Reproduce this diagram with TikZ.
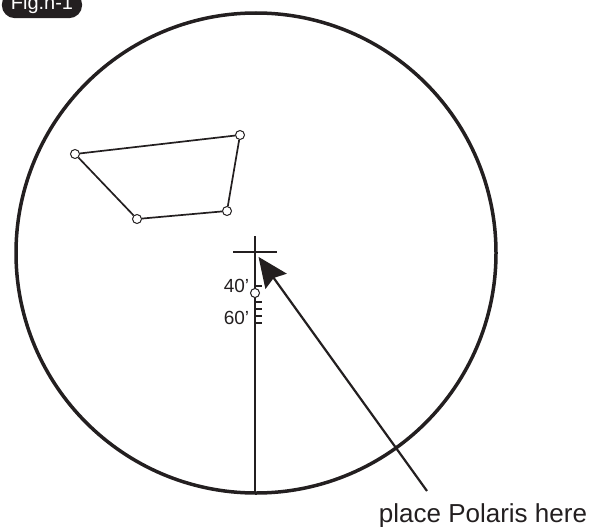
\documentclass[tikz,border=0pt]{standalone}
\usepackage{fontspec}
\setmainfont{Liberation Sans}
\usetikzlibrary{arrows.meta,positioning,calc}

\definecolor{ink}{HTML}{231F20}

\begin{document}
\begin{tikzpicture}[x=1pt, y=-1pt, ink, line width=1.7pt,
  star/.style={circle, draw, fill=white, inner sep=0pt, minimum size=9pt, line width=1pt},
  lbl/.style={font=\fontsize{19}{21}\selectfont, inner sep=0pt, anchor=east}]
  \useasboundingbox (0,0) rectangle (605,527);

  % field of view
  \node[circle, draw, line width=3.5pt, minimum size=480pt, inner sep=0pt, outer sep=0pt] (field) at (256,253) {};
  \node[fill=ink, text=white, rounded corners=13pt, inner xsep=9pt, inner ysep=4pt,
        font=\fontsize{20}{22}\selectfont, anchor=base west] (fig) at (1,10) {Fig.n-1};

  % pole cross and scale
  \coordinate (pole) at (255,252);
  \draw ($(pole)+(-22,0)$) -- ($(pole)+(22,0)$);
  \draw ($(pole)+(0,-16)$) -- (pole |- field.south);
  \foreach \y in {286,302,309,316,323}
    \draw (255,\y) -- ++(7,0);
  \node[star] (ref) at (255,293) {};
  \node[lbl] (m40) at (250,286) {40'};
  \node[lbl] (m60) at (250,318) {60'};

  % stars
  \node[star] (s1) at (75,154) {};
  \node[star] (s2) at (240,135) {};
  \node[star] (s3) at (227,211) {};
  \node[star] (s4) at (137,219) {};
  \draw (s1) -- (s2) -- (s3) -- (s4) -- (s1);

  % pointer
  \node[font=\fontsize{26}{30}\selectfont, inner sep=0pt, anchor=base] (note) at (483,522) {place Polaris here};
  \coordinate (tail) at (427,491);
  \draw[-{Stealth[length=30pt, width=26pt, inset=4pt]}, line width=2.2pt, shorten >=6pt] (tail) -- (pole);
\end{tikzpicture}
\end{document}
